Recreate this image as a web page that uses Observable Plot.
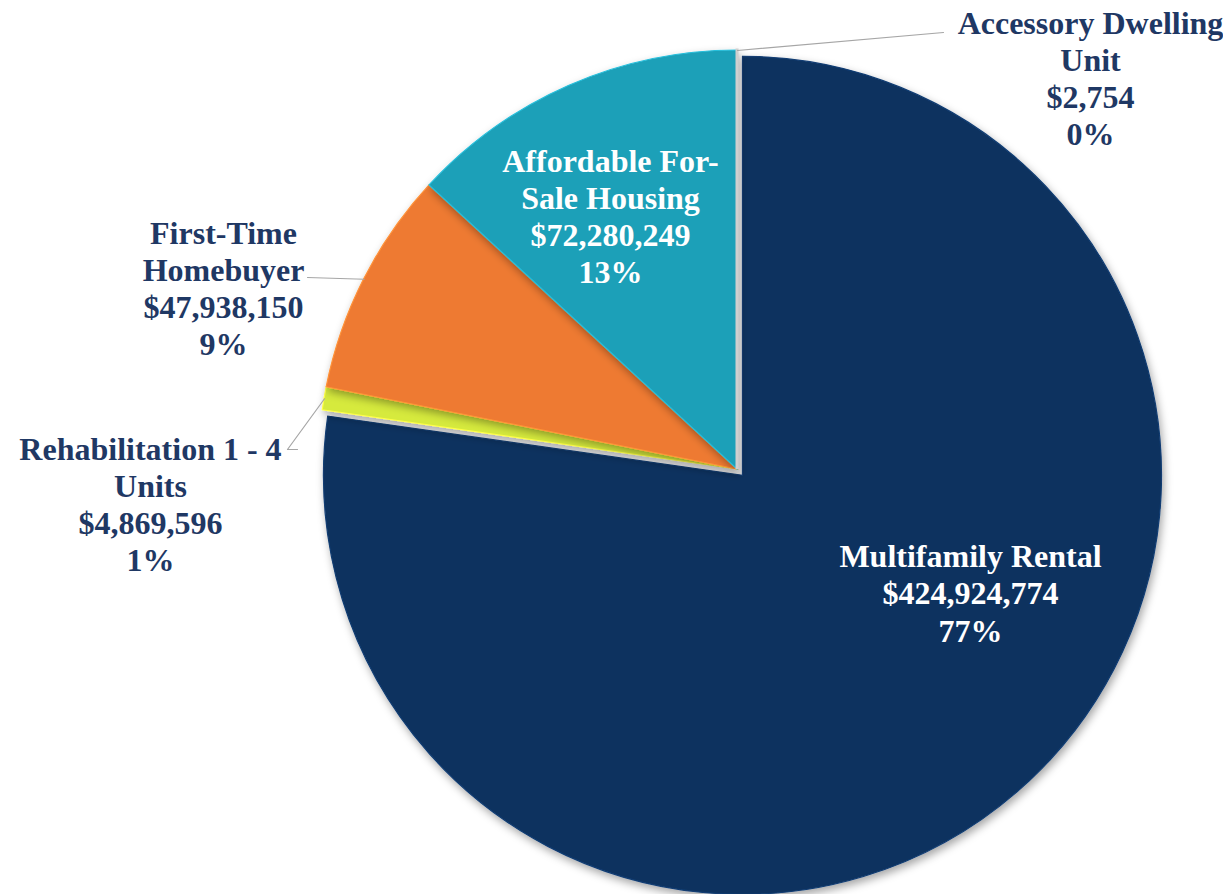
<!DOCTYPE html>
<html>
<head>
<meta charset="utf-8">
<script src="https://cdn.jsdelivr.net/npm/d3@7"></script>
<script src="https://cdn.jsdelivr.net/npm/@observablehq/plot@0.6"></script>
<style>
  html, body { margin: 0; padding: 0; background: #ffffff; }
  #chart { width: 1223px; height: 894px; }
</style>
</head>
<body>
<div id="chart"></div>
<script>
// ---- Data ----
const categories = ["Accessory Dwelling Unit", "Multifamily Rental", "Rehabilitation 1 - 4 Units", "First-Time Homebuyer", "Affordable For-Sale Housing"];
const amounts = [2754, 424924774, 4869596, 47938150, 72280249];
const percentLabels = ["0%", "77%", "1%", "9%", "13%"];
const labelNames = ["Accessory Dwelling\nUnit", "Multifamily Rental", "Rehabilitation 1 - 4\nUnits", "First-Time\nHomebuyer", "Affordable For-\nSale Housing"];

// ---- Styling / layout (not data) ----
const sliceColors = ["#d9d9d9", "#0f325f", "#d6ea3c", "#ee7a30", "#1fa0b8"];
const labelColors = ["#1f3864", "#ffffff", "#1f3864", "#1f3864", "#ffffff"];
const explode = [0, 0.02, 0, 0, 0];
// label block centres, in pie-radius units relative to the pie centre
const labelPos = [[0.8425, -0.9356], [0.5561, 0.2936], [-1.4010, 0.0811], [-1.2267, -0.4344], [-0.3031, -0.6062]];
// leader-line outer points in pie-radius units; null = no leader
const leaderEnds = [[[0.4916, -1.0430]], null, [[-1.0501, -0.0477], [-1.0740, -0.0477]], [[-1.0263, -0.4582]], null];

const W = 1223, H = 894, CX = 737, CY = 469, R = 419;

const color = Plot.scale({color: {type: "ordinal", domain: categories, range: sliceColors}});
const fmt = d3.format("$,");

const pie = d3.pie().sort(null).value(d => d.amount);
const slices = pie(categories.map((c, i) => ({category: c, amount: amounts[i], i})));

const labels = slices.map((s, i) => ({
  text: `${labelNames[i]}\n${fmt(amounts[i])}\n${percentLabels[i]}`,
  x: labelPos[i][0], y: labelPos[i][1], fill: labelColors[i]
}));

const leaders = [];
slices.forEach((s, i) => {
  if (!leaderEnds[i]) return;
  const a = (s.startAngle + s.endAngle) / 2;
  const pts = [[Math.sin(a), -Math.cos(a)], ...leaderEnds[i].slice().reverse()];
  pts.forEach(([x, y], k) => leaders.push({id: i, x, y, k}));
});

function pieMark(index, scales) {
  const sx = scales.x, sy = scales.y;
  const ox = sx(0), oy = sy(0), r = sx(1) - sx(0);
  const arc = d3.arc().innerRadius(0).outerRadius(r);
  const ns = "http://www.w3.org/2000/svg";
  const g = document.createElementNS(ns, "g");
  g.innerHTML = `<defs>
    <filter id="shadow" x="-10%" y="-10%" width="120%" height="120%">
      <feDropShadow dx="2" dy="4" stdDeviation="4" flood-color="#000" flood-opacity="0.35"/>
    </filter>
  </defs>`;
  const order = [1, 2, 3, 4, 0];
  for (const i of order) {
    const s = slices[i];
    const a = (s.startAngle + s.endAngle) / 2;
    const dx = Math.sin(a) * explode[i] * r, dy = -Math.cos(a) * explode[i] * r;
    const p = document.createElementNS(ns, "path");
    p.setAttribute("d", arc(s));
    p.setAttribute("transform", `translate(${ox + dx},${oy + dy})`);
    p.setAttribute("fill", color.apply(categories[i]));
    if (i === 0) {
      p.setAttribute("stroke", "#cfcfcf");
      p.setAttribute("stroke-width", 3);
    } else {
      p.setAttribute("stroke", d3.color(color.apply(categories[i])).brighter(0.5));
      p.setAttribute("stroke-width", 1.2);
      p.setAttribute("filter", "url(#shadow)");
    }
    g.appendChild(p);
  }
  return g;
}

const chart = Plot.plot({
  width: W, height: H,
  margin: 0,
  x: {domain: [-CX / R, (W - CX) / R], range: [0, W], axis: null},
  y: {domain: [-CY / R, (H - CY) / R], range: [0, H], axis: null},
  style: {background: "#ffffff"},
  marks: [
    pieMark,
    Plot.line(leaders, {x: "x", y: "y", z: "id", stroke: "#a6a6a6", strokeWidth: 1.2}),
    Plot.text(labels, {
      x: "x", y: "y", text: "text", fill: "fill",
      fontFamily: "'Liberation Serif', 'Times New Roman', serif",
      fontWeight: "bold", fontSize: 32, lineHeight: 1.16,
      lineAnchor: "middle", textAnchor: "middle"
    })
  ]
});
document.getElementById("chart").appendChild(chart);
</script>
</body>
</html>
